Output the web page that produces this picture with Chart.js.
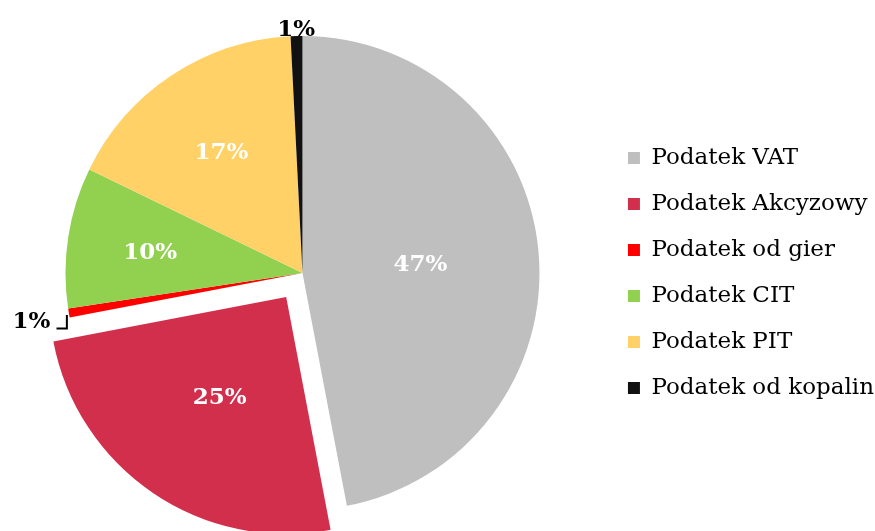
<!DOCTYPE html>
<html>
<head>
<meta charset="utf-8">
<script src="https://cdn.jsdelivr.net/npm/chart.js@4.4.0/dist/chart.umd.min.js"></script>
<style>
  html, body { margin: 0; padding: 0; background: #fff; }
  #wrap { width: 875px; height: 531px; }
</style>
</head>
<body>
<div id="wrap"><canvas id="chart" width="875" height="531"></canvas></div>
<script>
const categories = ['Podatek VAT', 'Podatek Akcyzowy', 'Podatek od gier', 'Podatek CIT', 'Podatek PIT', 'Podatek od kopalin'];
const shares = [47.0, 25.0, 0.6, 9.6, 17.0, 0.8];
const colors = ['#BFBFBF', '#D22F4D', '#FF0000', '#92D050', '#FFD166', '#111111'];
const offsets = [0, 116, 0, 0, 0, 0];
// label distance from centre, as fraction of radius
const labelRadius = [0.5, 0.5, 1.16, 0.65, 0.62, 1.04];
const labelColors = ['#fff', '#fff', '#000', '#fff', '#fff', '#000'];

const serif = '"DejaVu Serif", Georgia, serif';

const pctLabels = {
  id: 'pctLabels',
  afterDatasetsDraw(chart) {
    const ctx = chart.ctx;
    const meta = chart.getDatasetMeta(0);
    const total = shares.reduce((a, b) => a + b, 0);
    ctx.save();
    ctx.font = 'bold 23px ' + serif;
    ctx.textAlign = 'center';
    ctx.textBaseline = 'middle';
    meta.data.forEach((arc, i) => {
      const p = arc.getProps(['x', 'y', 'startAngle', 'endAngle', 'outerRadius'], true);
      const mid = (p.startAngle + p.endAngle) / 2;
      const shift = offsets[i] / 4;
      const cx = p.x + Math.cos(mid) * shift;
      const cy = p.y + Math.sin(mid) * shift;
      const lx = cx + Math.cos(mid) * p.outerRadius * labelRadius[i];
      const ly = cy + Math.sin(mid) * p.outerRadius * labelRadius[i] + 3;
      ctx.fillStyle = labelColors[i];
      ctx.fillText(Math.round(shares[i] / total * 100) + '%', lx, ly);
      if (i === 2) {
        // elbow leader to the slice edge
        const ex = cx + Math.cos(mid) * p.outerRadius;
        const ey = cy + Math.sin(mid) * p.outerRadius;
        ctx.strokeStyle = '#000';
        ctx.lineWidth = 2;
        ctx.beginPath();
        ctx.moveTo(lx + 25, ly + 6);
        ctx.lineTo(ex - 2, ly + 6);
        ctx.lineTo(ex - 2, ey + 2);
        ctx.stroke();
      }
    });
    ctx.restore();
  }
};

new Chart(document.getElementById('chart'), {
  type: 'pie',
  data: {
    labels: categories,
    datasets: [{
      data: shares,
      backgroundColor: colors,
      borderWidth: 0,
      offset: offsets,
      radius: 237,
      clip: false
    }]
  },
  options: {
    responsive: false,
    animation: false,
    layout: { padding: { left: -16, right: -9, top: 15, bottom: 0 } },
    plugins: {
      legend: {
        position: 'right',
        labels: {
          boxWidth: 12,
          boxHeight: 12,
          padding: 23,
          color: '#000',
          font: { family: serif, size: 23 }
        }
      },
      tooltip: { enabled: false }
    }
  },
  plugins: [pctLabels]
});
</script>
</body>
</html>
